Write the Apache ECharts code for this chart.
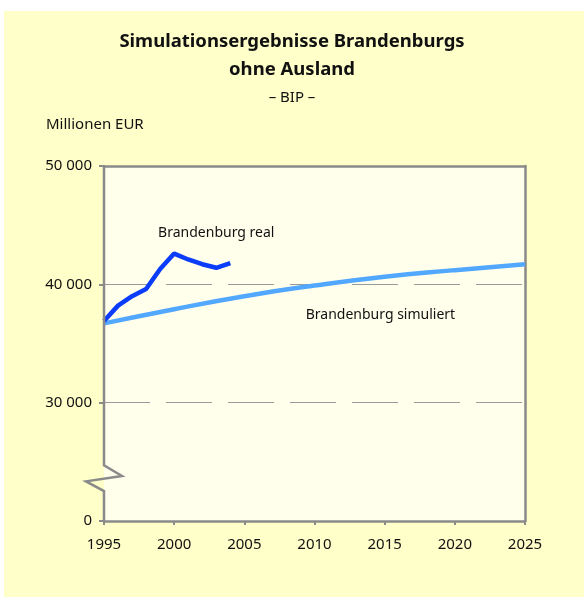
<!DOCTYPE html>
<html>
<head>
<meta charset="utf-8">
<script src="https://cdn.jsdelivr.net/npm/echarts@6/dist/echarts.min.js"></script>
<style>html,body{margin:0;padding:0;background:#fff;}#c{width:584px;height:597px;}</style>
</head>
<body>
<div id="c"></div>
<script>
const realYears = [1995, 1996, 1997, 1998, 1999, 2000, 2001, 2002, 2003, 2004];
const realValues = [36900, 38200, 39000, 39600, 41300, 42600, 42100, 41700, 41400, 41800];
const simYears = [1995, 2000, 2005, 2010, 2015, 2020, 2025];
const simValues = [36700, 37900, 39000, 39900, 40650, 41200, 41700];
const yTickValues = [20000, 30000, 40000, 50000];
const yTickLabels = ['0', '30 000', '40 000', '50 000'];
const titleText = 'Simulationsergebnisse Brandenburgs\nohne Ausland';
const subText = '– BIP –';
const unitText = 'Millionen EUR';
const realName = 'Brandenburg real';
const simName = 'Brandenburg simuliert';

const FONT = '"Noto Sans", sans-serif';
const GRAY = '#8a8a8a';
const chart = echarts.init(document.getElementById('c'));

chart.setOption({
  animation: false,
  backgroundColor: '#FFFFC9',
  textStyle: { fontFamily: FONT },
  title: {
    text: titleText,
    subtext: subText,
    left: 'center',
    top: 23,
    itemGap: 6,
    textStyle: { fontFamily: FONT, fontWeight: 'bold', fontSize: 18.5, color: '#111', lineHeight: 28 },
    subtextStyle: { fontFamily: FONT, fontSize: 15, color: '#111' }
  },
  grid: { left: 104, right: 59, top: 166, bottom: 76, show: true, backgroundColor: '#FFFFEC', borderWidth: 0 },
  xAxis: [{
    type: 'value', min: 1995, max: 2025, interval: 5,
    axisLine: { show: true, lineStyle: { color: GRAY, width: 2.5 } },
    axisTick: { show: true, length: 4, lineStyle: { color: GRAY, width: 2 } },
    axisLabel: { margin: 16, fontSize: 15, color: '#111', fontFamily: FONT, formatter: v => String(v) },
    splitLine: { show: false }
  }, {
    type: 'value', position: 'top', min: 1995, max: 2025,
    axisLine: { show: true, lineStyle: { color: GRAY, width: 2.5 } },
    axisTick: { show: false }, axisLabel: { show: false }, splitLine: { show: false }
  }],
  yAxis: [{
    type: 'value', min: 20000, max: 50000, interval: 10000,
    axisLine: { show: false },
    axisTick: { show: true, length: 5, lineStyle: { color: GRAY, width: 2 } },
    axisLabel: {
      margin: 12, fontSize: 15, color: '#111', fontFamily: FONT,
      formatter: v => { const i = yTickValues.indexOf(v); return i >= 0 ? yTickLabels[i] : ''; }
    },
    splitLine: { show: true, lineStyle: { color: '#9a9a9a', width: 1, type: [46, 16] } }
  }, {
    type: 'value', position: 'right', min: 20000, max: 50000,
    axisLine: { show: true, lineStyle: { color: GRAY, width: 2.5 } },
    axisTick: { show: false }, axisLabel: { show: false }, splitLine: { show: false }
  }],
  series: [{
    name: simName, type: 'line', smooth: true, symbol: 'none',
    data: simYears.map((y, i) => [y, simValues[i]]),
    lineStyle: { color: '#52A8FF', width: 4.5 }, z: 3
  }, {
    name: realName, type: 'line', symbol: 'none',
    data: realYears.map((y, i) => [y, realValues[i]]),
    lineStyle: { color: '#0A3CFA', width: 4.5 }, z: 4
  }]
});

const px = (x, y) => chart.convertToPixel({ gridIndex: 0 }, [x, y]);
const a50 = px(1995, 50000), b1 = px(1995, 24700), b2 = px(1995, 23800), b3 = px(1995, 23350), b4 = px(1995, 22530), a20 = px(1995, 20000);
const lRealPos = px(2003.0, 44300), lSimPos = px(2014.7, 37420);

chart.setOption({
  graphic: [
    { type: 'rect', shape: { x: 0, y: 0, width: 584, height: 11 }, style: { fill: '#fff' }, z: 100, silent: true },
    { type: 'rect', shape: { x: 0, y: 0, width: 4, height: 597 }, style: { fill: '#fff' }, z: 100, silent: true },
    { type: 'polyline', shape: { points: [[a50[0], a50[1] - 1], b1, [b2[0] + 18, b2[1]], [b3[0] - 18, b3[1]], b4, [a20[0], a20[1] + 1]] },
      style: { stroke: GRAY, lineWidth: 2.5, fill: null }, z: 50, silent: true },
    { type: 'text', x: 46, y: 117, style: { text: unitText, font: '15px ' + FONT, fill: '#111' }, z: 50 },
    { type: 'text', x: lRealPos[0], y: lRealPos[1], style: { text: realName, font: '14px ' + FONT, fill: '#111', align: 'center', verticalAlign: 'middle' }, z: 50 },
    { type: 'text', x: lSimPos[0], y: lSimPos[1], style: { text: simName, font: '14px ' + FONT, fill: '#111', align: 'center', verticalAlign: 'middle' }, z: 50 }
  ]
});
</script>
</body>
</html>
